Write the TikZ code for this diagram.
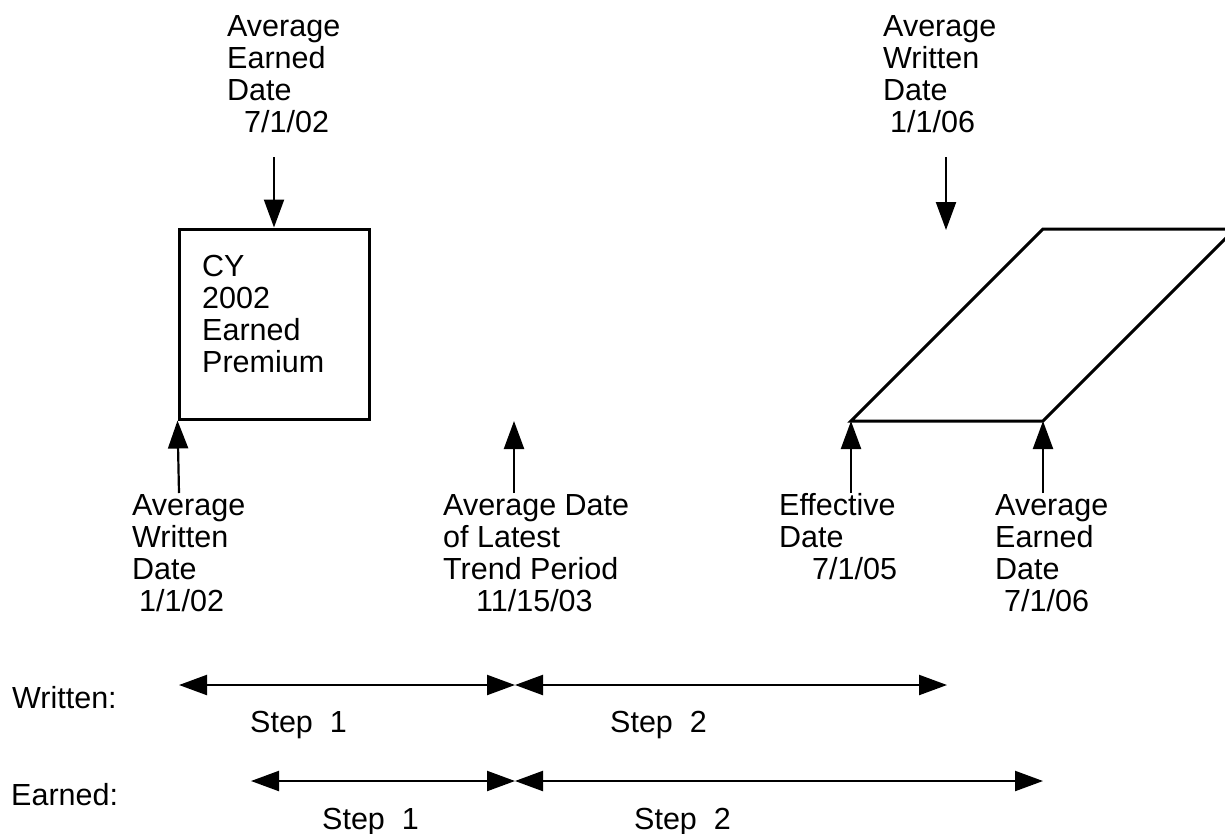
\documentclass[tikz,border=0pt]{standalone}
\usepackage{fontspec}
\setmainfont{Liberation Sans}
\usetikzlibrary{arrows.meta}
\tikzset{
  lbl/.style={anchor=base west, inner sep=0pt, align=left, font=\fontsize{30.5}{32.3}\selectfont},
  arr/.style={line width=2.2pt, -{Triangle[length=28pt,width=20pt]}},
  darr/.style={line width=2.2pt, {Triangle[length=28pt,width=20pt]}-{Triangle[length=28pt,width=20pt]}},
  thickline/.style={line width=3pt, line join=miter}
}
\begin{document}
\begin{tikzpicture}[x=1pt,y=-1pt]
\useasboundingbox (0,0) rectangle (1225,833);
\fill[white] (0,0) rectangle (1225,833);

% box (text anchored at baseline of its last line)
\node (box) [draw, thickline, minimum width=190pt, minimum height=190pt, inner sep=0pt] at (274,324) {};
\node (boxtxt) [lbl] at (202,372.9) {CY\\2002\\Earned\\Premium};

% parallelogram
\coordinate (p1) at (851,421);
\coordinate (p2) at (1043,421);
\coordinate (p3) at (1235,229);
\coordinate (p4) at (1043,229);
\begin{scope}
\clip (0,0) rectangle (1225,833);
\draw[thickline] (p1) -- (p2) -- (p3) -- (p4) -- cycle;
\end{scope}

% top labels
\node (tl) [lbl] at (227,132.9) {Average\\Earned\\Date\\\hspace*{17pt}7/1/02};
\node (tr) [lbl] at (883,132.9) {Average\\Written\\Date\\\hspace*{7pt}1/1/06};
\coordinate (tlA) at (274,157);
\coordinate (trA) at (946,157);
\coordinate (trB) at (946,230);
\draw[arr] (tlA) -- (box.north);
\draw[arr] (trA) -- (trB);

% bottom labels
\node (bl) [lbl] at (132,611.9) {Average\\Written\\Date\\\hspace*{7pt}1/1/02};
\node (mid) [lbl] at (443,611.9) {Average Date\\of Latest\\Trend Period\\\hspace*{33pt}11/15/03};
\node (eff) [lbl] at (779,579.6) {Effective\\Date\\\hspace*{33pt}7/1/05};
\node (ae) [lbl] at (995,611.9) {Average\\Earned\\Date\\\hspace*{9pt}7/1/06};

\coordinate (blA) at (179,493);
\coordinate (midA) at (514,493);
\coordinate (midB) at (514,421);
\coordinate (effA) at (851,493);
\coordinate (aeA) at (1043,493);
\draw[arr] (blA) -- (box.south west);
\draw[arr] (midA) -- (midB);
\draw[arr] (effA) -- (p1);
\draw[arr] (aeA) -- (p2);

% timelines
\node (wr) [lbl] at (12,708) {Written:};
\node (ea) [lbl] at (11,805) {Earned:};
\coordinate (w1) at (179,685);
\coordinate (wm) at (515,685);
\coordinate (w2) at (947,685);
\coordinate (e1) at (251,781);
\coordinate (em) at (515,781);
\coordinate (e2) at (1043,781);
\draw[darr] (w1) -- (wm);
\draw[darr] (wm) -- (w2);
\draw[darr] (e1) -- (em);
\draw[darr] (em) -- (e2);
\node (ws1) [lbl] at (250,732) {Step\ \ 1};
\node (ws2) [lbl] at (610,732) {Step\ \ 2};
\node (es1) [lbl] at (322,829) {Step\ \ 1};
\node (es2) [lbl] at (634,829) {Step\ \ 2};
\end{tikzpicture}
\end{document}
